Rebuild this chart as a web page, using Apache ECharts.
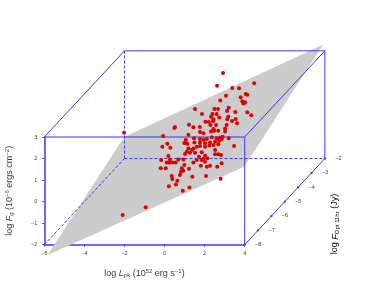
<!DOCTYPE html>
<html><head><meta charset="utf-8">
<style>html,body{margin:0;padding:0;background:#fff}#c{width:374px;height:307px}</style>
<script src="https://cdn.jsdelivr.net/npm/echarts@6/dist/echarts.min.js"></script>
</head><body><div id="c"></div>
<script>
var lumTicks=[-6,-4,-2,0,2,4];
var fluenceTicks=[-2,-1,0,1,2,3];
var optTicks=[-8,-7,-6,-5,-4,-3,-2];
var planeL=[-5.83,-2.02,7.92,3.98];
var planeF=[-2.48,3.0,7.30,1.62];
// burst positions as read on the plot, in the units of the front face
var pointLogL=[2.92,2.62,4.47,3.38,3.72,4.05,4.13,3.07,3.80,2.78,3.88,4.02,3.93,1.52,2.49,2.67,3.20,3.12,3.53,4.13,4.33,1.87,2.39,2.60,2.32,2.73,3.18,2.44,3.13,2.04,2.21,2.42,3.37,3.55,3.62,1.22,1.44,1.76,2.29,2.57,3.10,0.49,0.52,2.44,3.02,-0.07,1.19,1.77,1.94,2.32,2.49,2.68,3.02,1.06,1.47,1.77,1.94,2.11,2.36,2.60,2.77,2.90,3.20,0.14,-0.11,0.29,0.99,1.14,1.49,1.77,2.02,2.27,2.52,2.72,2.85,3.47,1.19,1.44,1.61,1.77,2.02,2.24,2.44,2.68,1.36,1.11,1.02,1.27,1.52,1.86,2.52,2.68,2.52,2.82,1.72,2.02,1.94,2.14,0.19,-0.17,0.27,0.69,0.94,0.11,0.24,0.41,0.56,1.44,1.61,1.86,2.02,0.99,1.81,2.11,2.27,2.63,2.85,-0.19,0.06,0.86,1.22,0.82,0.94,0.77,0.36,0.39,1.39,2.07,2.80,0.64,0.57,0.22,1.24,0.91,-2.02,-2.09,-0.94];
var pointLogF=[5.97,5.38,5.49,5.27,5.26,5.00,4.96,4.92,4.84,4.70,4.66,4.61,4.55,4.30,4.30,4.30,4.36,4.21,4.16,4.15,4.01,4.07,4.07,4.07,3.94,3.91,3.94,3.82,3.82,3.71,3.70,3.73,3.74,3.84,3.64,3.57,3.45,3.46,3.56,3.56,3.56,3.42,3.46,3.37,3.40,3.05,3.11,3.23,3.17,3.25,3.29,3.29,3.25,2.86,2.94,2.91,2.87,2.91,2.99,2.94,2.97,3.01,2.94,2.69,2.55,2.50,2.72,2.69,2.75,2.75,2.71,2.75,2.78,2.83,2.89,2.58,2.47,2.47,2.55,2.58,2.55,2.60,2.63,2.66,2.40,2.32,2.21,2.27,2.27,2.29,2.40,2.20,2.20,2.16,2.08,2.13,1.98,2.01,2.12,1.93,1.96,1.96,1.96,1.82,1.81,1.82,1.82,1.82,1.93,1.93,1.85,1.70,1.67,1.62,1.67,1.62,1.78,1.55,1.55,1.55,1.53,1.39,1.43,1.24,1.19,1.05,1.16,1.19,1.06,0.97,0.80,0.71,0.65,0.51,3.20,-0.62,-0.26];

var BLUE='#3838ff', TXT='#3a3a3a';
function minus(v){return String(v).replace('-','\u2212');}
function proj(x,y,z){var k=(z+8)/6*4;return [x+k,y+k];}
var edges=[
  [[-6,3,-8],[4,3,-8],0],[[4,-2,-8],[4,3,-8],0],
  [[-6,3,-8],[-6,3,-2],0],[[4,3,-8],[4,3,-2],0],
  [[-6,3,-2],[4,3,-2],0],[[4,-2,-2],[4,3,-2],0],
  [[4,-2,-8],[4,-2,-2],0],
  [[-6,-2,-8],[-6,-2,-2],1],[[-6,-2,-2],[4,-2,-2],1],[[-6,-2,-2],[-6,3,-2],1]
];
var edgeData=edges.map(function(e){
  var a=proj(e[0][0],e[0][1],e[0][2]),b=proj(e[1][0],e[1][1],e[1][2]);
  return [a[0],a[1],b[0],b[1],e[2]];
});
var series=[{type:'custom',clip:false,z:1,silent:true,
  data:planeL.map(function(v,i){return [v,planeF[i]];}),
  renderItem:function(p,api){
    if(p.dataIndex!==0)return null;
    var pts=planeL.map(function(v,i){return api.coord([v,planeF[i]]);});
    return {type:'polygon',shape:{points:pts},style:{fill:'#cccccc'}};
  }}];
series.push({type:'custom',clip:false,z:3,silent:true,data:edgeData,
  encode:{x:[0,2],y:[1,3]},
  renderItem:function(p,api){
    var a=api.coord([api.value(0),api.value(1)]),b=api.coord([api.value(2),api.value(3)]);
    return {type:'line',shape:{x1:a[0],y1:a[1],x2:b[0],y2:b[1]},
      style:{stroke:BLUE,lineWidth:1,fill:null,lineDash:api.value(4)?[3,2]:null}};
  }});
series.push({type:'scatter',clip:false,z:4,silent:true,symbol:'rect',symbolSize:[2,2],
  itemStyle:{color:BLUE,opacity:1},
  data:optTicks.map(function(t){return proj(4,-2,t);}),
  label:{show:true,position:'inside',offset:[13.5,0],fontFamily:'Liberation Sans',fontSize:5.5,color:TXT,
    formatter:function(p){return minus(optTicks[p.dataIndex]);}}});
series.push({type:'scatter',clip:false,z:5,silent:true,symbolSize:4,itemStyle:{color:'#dd0000',opacity:1},
  data:pointLogL.map(function(v,i){return [v,pointLogF[i]];})});

function rich(){return {
  b:{fontFamily:'Liberation Sans',fontSize:9,color:TXT},
  i:{fontFamily:'Liberation Sans',fontSize:9,color:TXT,fontStyle:'italic'},
  sub:{fontFamily:'Liberation Sans',fontSize:6,color:TXT,verticalAlign:'bottom',padding:[4,0,0,0]},
  sup:{fontFamily:'Liberation Sans',fontSize:6,color:TXT,verticalAlign:'top',padding:[0,0,4,0]}
};}
var chart=echarts.init(document.getElementById('c'),null,{renderer:'canvas'});
chart.setOption({animation:false,backgroundColor:'#fff',
  grid:{left:44.3,right:129.3,top:137,bottom:62.3,containLabel:false,outerBoundsMode:'none'},
  xAxis:{type:'value',min:-6,max:4,interval:2,splitLine:{show:false},
    axisLine:{onZero:false,lineStyle:{color:BLUE,width:1.5}},
    axisTick:{inside:false,length:2,lineStyle:{color:BLUE}},
    axisLabel:{margin:6,fontFamily:'Liberation Sans',fontSize:5.5,color:TXT,formatter:minus,showMinLabel:true,showMaxLabel:true},
    name:'{b|log }{i|L}{sub|pk}{b| (10}{sup|52}{b| erg s}{sup|\u22121}{b|)}',nameLocation:'middle',nameGap:24,
    nameTextStyle:{rich:rich()}},
  yAxis:{type:'value',min:-2,max:3,interval:1,splitLine:{show:false},
    axisLine:{onZero:false,lineStyle:{color:BLUE,width:1.5}},
    axisTick:{inside:false,length:2,lineStyle:{color:BLUE}},
    axisLabel:{margin:7,fontFamily:'Liberation Sans',fontSize:5.5,color:TXT,formatter:minus,showMinLabel:true,showMaxLabel:true},
    name:'{b|log }{i|F}{sub|g}{b| (10}{sup|\u22126}{b| ergs cm}{sup|\u22122}{b|)}',nameLocation:'middle',nameRotate:90,nameGap:30,
    nameTextStyle:{rich:rich()}},
  series:series,
  graphic:[{type:'text',x:335,y:224,rotation:Math.PI/2,z:10,silent:true,
    style:{text:'{b|log }{i|F}{sub|Opt 11hr}{b| (Jy)}',rich:rich(),align:'center',verticalAlign:'middle'}}]
});
</script></body></html>
